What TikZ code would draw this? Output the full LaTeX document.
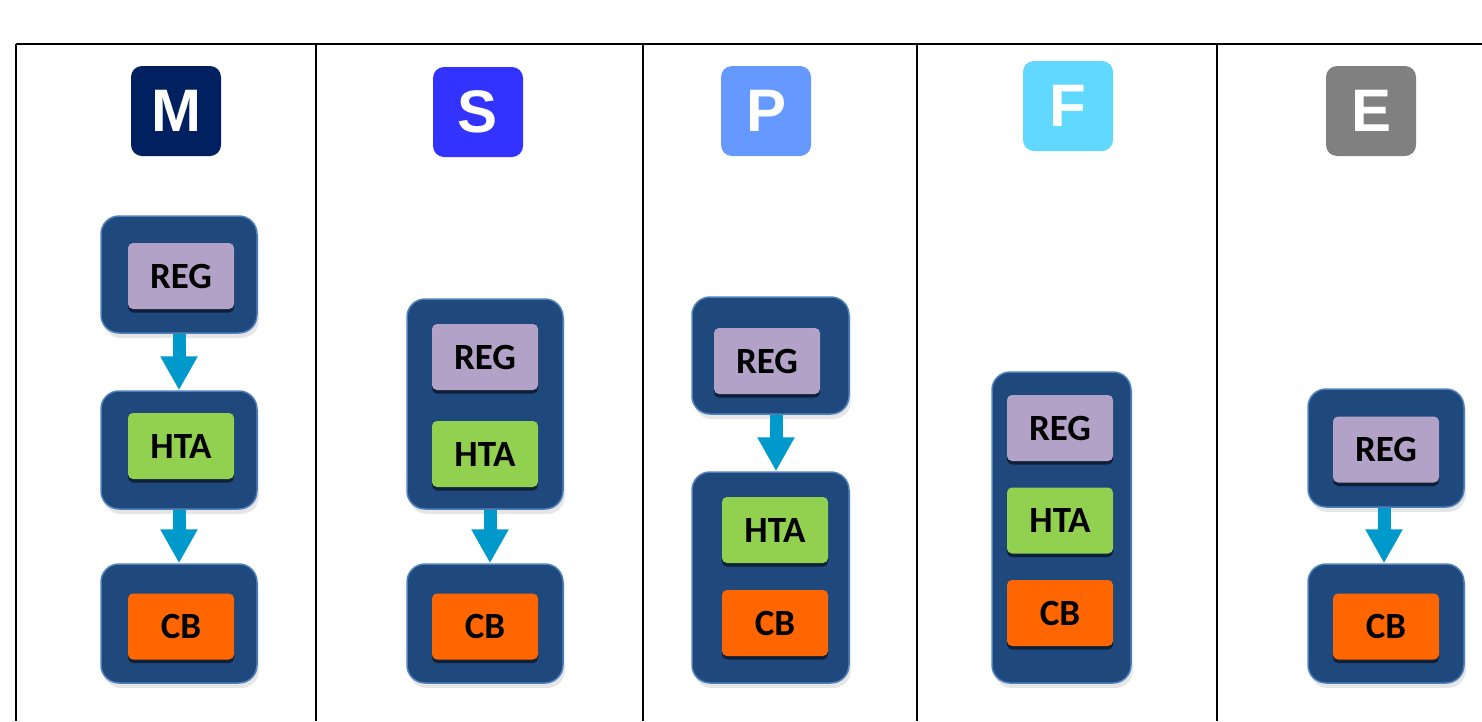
\documentclass[tikz,border=0pt]{standalone}
\usepackage{fontspec}
\setmainfont{Carlito}
\newfontfamily\letterfont{Liberation Sans}
\usetikzlibrary{arrows.meta,shadows}
\definecolor{outerblue}{RGB}{31,73,125}
\definecolor{borderblue}{RGB}{79,129,189}
\definecolor{regcol}{RGB}{179,162,199}
\definecolor{htacol}{RGB}{146,208,80}
\definecolor{cbcol}{RGB}{255,102,0}
\definecolor{arrowcol}{RGB}{0,153,204}
\definecolor{mcol}{RGB}{0,32,96}
\definecolor{scol}{RGB}{51,51,255}
\definecolor{pcol}{RGB}{102,153,255}
\definecolor{fcol}{RGB}{97,216,255}
\definecolor{ecol}{RGB}{128,128,128}
\begin{document}
\begin{tikzpicture}[x=1pt,y=-1pt,
  rule/.style={draw=black, line width=1.8pt},
  outerbox/.style={draw=borderblue, line width=1.5pt, fill=outerblue, rounded corners=18pt, minimum width=156pt, inner sep=0pt,
    drop shadow={shadow xshift=2pt, shadow yshift=-5pt, opacity=0.2}},
  innerbox/.style={rounded corners=5pt, minimum width=106pt, minimum height=66pt, inner sep=0pt, text=black,
    font=\bfseries\fontsize{37}{37}\selectfont,
    drop shadow={shadow xshift=0pt, shadow yshift=-3.5pt, opacity=0.55, fill=black}},
  reg/.style={innerbox, fill=regcol},
  hta/.style={innerbox, fill=htacol},
  cb/.style={innerbox, fill=cbcol},
  letterbox/.style={minimum width=90pt, minimum height=90pt, rounded corners=11pt, inner sep=0pt, text=white,
    font=\letterfont\bfseries\fontsize{60}{60}\selectfont},
  flow/.style={draw=arrowcol, line width=13pt, -{Triangle[length=34pt,width=35pt]}}
]
\useasboundingbox (0,0) rectangle (1482,721);
% grid
\draw[rule] (16,44) -- (1482,44);
\foreach \x in {16,316,643,917,1217} \draw[rule] (\x,44) -- (\x,721);

% letters
\node[letterbox, fill=mcol] (lm) at (176,111) {M};
\node[letterbox, fill=scol] (ls) at (478,112) {S};
\node[letterbox, fill=pcol] (lp) at (766,111) {P};
\node[letterbox, fill=fcol] (lf) at (1068,106) {F};
\node[letterbox, fill=ecol] (le) at (1371,111) {E};

% column M
\node[outerbox, minimum height=117pt] (m1) at (179,274.5) {};
\node[reg] (mreg) at (181,276) {REG};
\node[outerbox, minimum height=118pt] (m2) at (179,450) {};
\node[hta] (mhta) at (181,446) {HTA};
\node[outerbox, minimum height=119pt] (m3) at (179,623.5) {};
\node[cb] (mcb) at (181,626.5) {CB};
\draw[flow] (m1.south) -- (m2.north);
\draw[flow] (m2.south) -- (m3.north);

% column S
\node[outerbox, minimum height=210pt] (s1) at (485,404) {};
\node[reg] (sreg) at (485,357) {REG};
\node[hta] (shta) at (485,454) {HTA};
\node[outerbox, minimum height=119pt] (s2) at (485,623.5) {};
\node[cb] (scb) at (485,626.5) {CB};
\draw[flow] ([xshift=5pt]s1.south) -- ([xshift=5pt]s2.north);

% column P
\node[outerbox, minimum height=117pt, minimum width=157pt] (p1) at (770.5,355.5) {};
\node[reg] (preg) at (767,361) {REG};
\node[outerbox, minimum height=211pt, minimum width=157pt] (p2) at (770.5,577.5) {};
\node[hta] (phta) at (775,530) {HTA};
\node[cb] (pcb) at (775,623) {CB};
\draw[flow] ([xshift=5.5pt]p1.south) -- ([xshift=5.5pt]p2.north);

% column F
\node[outerbox, minimum height=311pt, minimum width=139pt] (f1) at (1061.5,527.5) {};
\node[reg] (freg) at (1060,428) {REG};
\node[hta] (fhta) at (1060,520.5) {HTA};
\node[cb] (fcb) at (1060,613) {CB};

% column E
\node[outerbox, minimum height=118pt] (e1) at (1386,448) {};
\node[reg] (ereg) at (1386,449.5) {REG};
\node[outerbox, minimum height=119pt] (e2) at (1386,623.5) {};
\node[cb] (ecb) at (1386,626.5) {CB};
\draw[flow] ([xshift=-2pt]e1.south) -- ([xshift=-2pt]e2.north);
\end{tikzpicture}
\end{document}
